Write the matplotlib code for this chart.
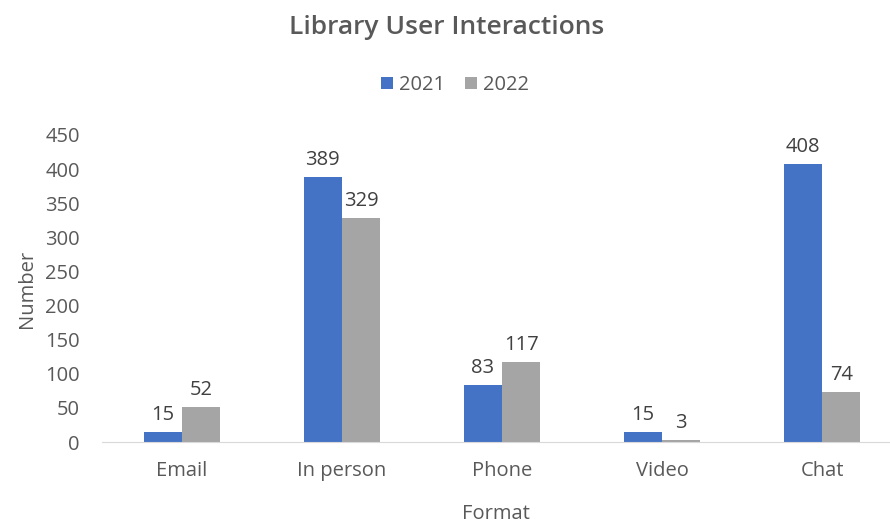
import matplotlib
matplotlib.use("Agg")
import matplotlib.pyplot as plt
import numpy as np

categories = ["Email", "In person", "Phone", "Video", "Chat"]
years = ["2021", "2022"]
values_2021 = [15, 389, 83, 15, 408]
values_2022 = [52, 329, 117, 3, 74]

BLUE = "#4472C4"
GRAY = "#A5A5A5"
TEXT = "#595959"
FS = 14.5

plt.rcParams["font.family"] = ["Open Sans", "DejaVu Sans"]

fig = plt.figure(figsize=(8.9, 5.25), dpi=100)
ax = fig.add_axes([102 / 890, 83 / 525, 788 / 890, 307 / 525])

x = np.arange(len(categories))
w = 0.24
b1 = ax.bar(x - w / 2, values_2021, w, color=BLUE, label=years[0])
b2 = ax.bar(x + w / 2, values_2022, w, color=GRAY, label=years[1])
for bars in (b1, b2):
    for rect in bars:
        ax.annotate(f"{int(rect.get_height())}",
                    (rect.get_x() + rect.get_width() / 2, rect.get_height()),
                    xytext=(0, 5), textcoords="offset points",
                    ha="center", va="bottom", fontsize=FS, color="#404040")

ax.set_xlim(-0.5, 4.5 - 12 / 160)
ax.set_ylim(0, 450)
ax.set_yticks(np.arange(0, 451, 50))
ax.set_xticks(x)
ax.set_xticklabels(categories)
ax.tick_params(axis="both", length=0, labelsize=FS, labelcolor=TEXT)
ax.tick_params(axis="x", pad=14)
ax.tick_params(axis="y", pad=16)
for s in ("top", "right", "left"):
    ax.spines[s].set_visible(False)
ax.spines["bottom"].set_color("#D9D9D9")
ax.set_xlabel("Format", fontsize=FS, color=TEXT, labelpad=16)
ax.set_ylabel("Number", fontsize=FS, color=TEXT, labelpad=6)

fig.text(0.502, 0.948, "Library User Interactions", ha="center", va="center",
         fontsize=19, fontweight="semibold", color=TEXT)
fig.legend(handles=[b1, b2], labels=years, loc="center",
           bbox_to_anchor=(0.511, 0.838), ncol=2, frameon=False,
           fontsize=FS, labelcolor=TEXT, handlelength=0.6, handleheight=0.6,
           handletextpad=0.3, columnspacing=1.0)

fig.savefig("out.png", dpi=100)
